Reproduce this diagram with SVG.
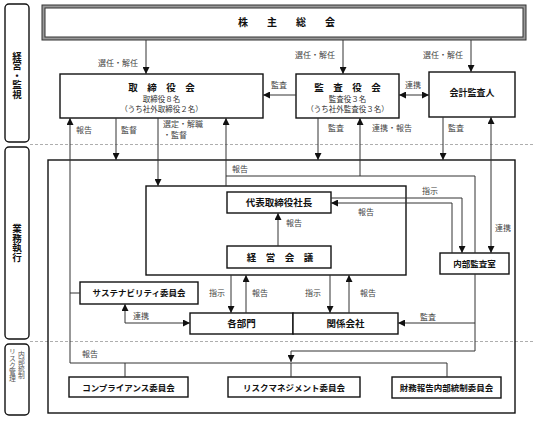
<svg xmlns="http://www.w3.org/2000/svg" width="533" height="422" viewBox="0 0 533 422">
<style>
.bx{fill:#fff;stroke:#111;stroke-width:1.4}
.pn{fill:#fff;stroke:#111;stroke-width:1.4}
.t{font-family:"Noto Sans CJK JP","Noto Sans",sans-serif;fill:#111;font-weight:bold}
.lb{font-family:"Noto Sans CJK JP","Noto Sans",sans-serif;fill:#444;font-size:8px}
.sm{font-family:"Noto Sans CJK JP","Noto Sans",sans-serif;fill:#333;font-size:7.5px}
.vs{font-family:"Noto Sans CJK JP","Noto Sans",sans-serif;fill:#555;font-size:6.8px}
.v{writing-mode:vertical-rl;text-orientation:upright}
.c{fill:none;stroke:#333;stroke-width:1}
.d{fill:none;stroke:#999;stroke-width:0.8;stroke-dasharray:3,2}
</style>
<defs>
<marker id="a" markerUnits="userSpaceOnUse" markerWidth="7" markerHeight="7" viewBox="0 0 7 7" refX="7" refY="3.5" orient="auto-start-reverse"><path d="M0,0 L7,3.5 L0,7 z" fill="#111"/></marker>
</defs>
<g id="side">
<rect class="pn" x="5" y="4" width="24" height="138" rx="4"/>
<rect class="pn" x="5" y="147" width="24" height="192" rx="4"/>
<rect class="pn" x="5" y="344" width="24" height="71" rx="4"/>
<text class="t v" x="17" y="75" font-size="9.5" text-anchor="middle">経営・監視</text>
<text class="t v" x="17" y="243" font-size="9.5" text-anchor="middle">業務執行</text>
<text class="vs v" x="21.5" y="365" text-anchor="middle">内部統制</text>
<text class="vs v" x="12.5" y="365" text-anchor="middle">リスク管理</text>
</g>
<line class="d" x1="30" y1="144.5" x2="533" y2="144.5"/>
<line class="d" x1="30" y1="341.5" x2="533" y2="341.5"/>
<rect x="48" y="160" width="467" height="253" fill="none" stroke="#111" stroke-width="1.4"/>
<rect class="bx" x="146" y="186" width="260" height="89"/>
<g id="kabunushi">
<rect x="42" y="5" width="484" height="35" fill="#999" stroke="#333" stroke-width="1"/>
<rect x="45" y="8" width="478" height="29" fill="#fff" stroke="#333" stroke-width="1"/>
<text class="t" x="238" y="26" font-size="10" letter-spacing="4.5">株　主　総　会</text>
</g>
<g id="torishimariyakukai">
<rect class="bx" x="60" y="74" width="203" height="44"/>
<text class="t" x="161.5" y="90.5" font-size="9.5" text-anchor="middle">取　締　役　会</text>
<text class="sm" x="161.5" y="102" text-anchor="middle">取締役８名</text>
<text class="sm" x="161.5" y="111.5" text-anchor="middle">（うち社外取締役２名）</text>
</g>
<g id="kansayakukai">
<rect class="bx" x="296" y="74" width="103" height="44"/>
<text class="t" x="347.5" y="90.5" font-size="9.5" text-anchor="middle">監　査　役　会</text>
<text class="sm" x="347.5" y="102" text-anchor="middle">監査役３名</text>
<text class="sm" x="347.5" y="111.5" text-anchor="middle">（うち社外監査役３名）</text>
</g>
<g id="kaikei">
<rect class="bx" x="429" y="72" width="86" height="45"/>
<text class="t" x="472" y="96" font-size="9" text-anchor="middle">会計監査人</text>
</g>
<g id="daihyo">
<rect class="bx" x="227" y="192" width="104" height="21"/>
<text class="t" x="279" y="206" font-size="9.5" text-anchor="middle">代表取締役社長</text>
</g>
<g id="keieikaigi">
<rect class="bx" x="227" y="246" width="104" height="22"/>
<text class="t" x="280" y="261" font-size="9.5" text-anchor="middle">経　営　会　議</text>
</g>
<g id="naibu">
<rect class="bx" x="440" y="253" width="69" height="21"/>
<text class="t" x="474.5" y="267" font-size="8.5" text-anchor="middle">内部監査室</text>
</g>
<g id="sustain">
<rect class="bx" x="80" y="282" width="118" height="22"/>
<text class="t" x="139" y="296" font-size="8.5" text-anchor="middle">サステナビリティ委員会</text>
</g>
<g id="kakubumon">
<rect class="bx" x="190" y="313" width="103" height="21"/>
<text class="t" x="241.5" y="327" font-size="9.5" text-anchor="middle">各部門</text>
</g>
<g id="kankei">
<rect class="bx" x="293" y="313" width="105" height="21"/>
<text class="t" x="345.5" y="327" font-size="9.5" text-anchor="middle">関係会社</text>
</g>
<g id="compliance">
<rect class="bx" x="69" y="377" width="119" height="20"/>
<text class="t" x="128.5" y="390.5" font-size="8.5" text-anchor="middle">コンプライアンス委員会</text>
</g>
<g id="risk">
<rect class="bx" x="228" y="377" width="132" height="20"/>
<text class="t" x="294" y="390.5" font-size="8.5" text-anchor="middle">リスクマネジメント委員会</text>
</g>
<g id="zaimu">
<rect class="bx" x="392" y="377" width="109" height="21"/>
<text class="t" x="446.5" y="391" font-size="8.5" text-anchor="middle">財務報告内部統制委員会</text>
</g>
<g id="connectors">
<path class="c" d="M146,40 V74" marker-end="url(#a)"/>
<path class="c" d="M343,40 V74" marker-end="url(#a)"/>
<path class="c" d="M471,40 V72" marker-end="url(#a)"/>
<path class="c" d="M296,95 H263" marker-end="url(#a)"/>
<path class="c" d="M399,95 H429" marker-start="url(#a)" marker-end="url(#a)"/>
<path class="c" d="M447,377 V363 H70 V118" marker-end="url(#a)"/>
<path class="c" d="M125,377 V363"/>
<path class="c" d="M291,377 V363"/>
<path class="c" d="M70,293 H80"/>
<path class="c" d="M116,118 V160" marker-end="url(#a)"/>
<path class="c" d="M158,118 V186" marker-end="url(#a)"/>
<path class="c" d="M226,186 V118" marker-end="url(#a)"/>
<path class="c" d="M475,253 V176 H226"/>
<path class="c" d="M360,176 V118" marker-end="url(#a)"/>
<path class="c" d="M318,118 V160" marker-end="url(#a)"/>
<path class="c" d="M443,117 V160" marker-end="url(#a)"/>
<path class="c" d="M491,117 V253" marker-start="url(#a)" marker-end="url(#a)"/>
<path class="c" d="M331,198 H462 V253" marker-end="url(#a)"/>
<path class="c" d="M452,253 V203 H331" marker-end="url(#a)"/>
<path class="c" d="M278,246 V213" marker-end="url(#a)"/>
<path class="c" d="M231,275 V313" marker-end="url(#a)"/>
<path class="c" d="M246,313 V275" marker-end="url(#a)"/>
<path class="c" d="M330,275 V313" marker-end="url(#a)"/>
<path class="c" d="M349,313 V275" marker-end="url(#a)"/>
<path class="c" d="M125,304 V323 H190" marker-start="url(#a)" marker-end="url(#a)"/>
<path class="c" d="M475,274 V351 H291 V362" marker-end="url(#a)"/>
<path class="c" d="M475,323 H398" marker-end="url(#a)"/>
</g>
<g id="labels">
<text class="lb" x="98" y="66">選任・解任</text>
<text class="lb" x="295" y="58">選任・解任</text>
<text class="lb" x="423" y="58">選任・解任</text>
<text class="lb" x="271" y="88">監査</text>
<text class="lb" x="405" y="88">連携</text>
<text class="lb" x="76" y="133">報告</text>
<text class="lb" x="121" y="133">監督</text>
<text class="lb" x="163" y="127">選定・解職</text>
<text class="lb" x="163" y="138">・監督</text>
<text class="lb" x="328" y="131">監査</text>
<text class="lb" x="372" y="131">連携・報告</text>
<text class="lb" x="448" y="131">監査</text>
<text class="lb" x="232" y="172">報告</text>
<text class="lb" x="422" y="194">指示</text>
<text class="lb" x="358" y="215">報告</text>
<text class="lb" x="286" y="226">報告</text>
<text class="lb" x="495" y="231">連携</text>
<text class="lb" x="209" y="296">指示</text>
<text class="lb" x="252" y="296">報告</text>
<text class="lb" x="305" y="296">指示</text>
<text class="lb" x="360" y="296">報告</text>
<text class="lb" x="133" y="319">連携</text>
<text class="lb" x="420" y="320">監査</text>
<text class="lb" x="82" y="357">報告</text>
</g>
</svg>
